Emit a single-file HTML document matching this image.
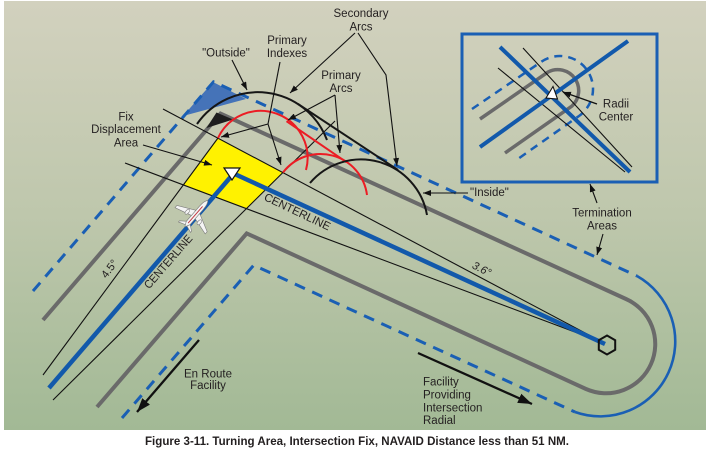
<!DOCTYPE html>
<html><head><meta charset="utf-8"><style>
html,body{margin:0;padding:0;background:#fff;}
svg{display:block;}
text{font-family:"Liberation Sans",Arial,sans-serif;fill:#231f20;}
</style></head><body>
<svg width="714" height="449" viewBox="0 0 714 449" xmlns="http://www.w3.org/2000/svg">
<defs>
<linearGradient id="bg" x1="0" y1="0" x2="0" y2="1">
<stop offset="0" stop-color="#d2d1be"/>
<stop offset="0.5" stop-color="#bec7ac"/>
<stop offset="1" stop-color="#a2b995"/>
</linearGradient>
<marker id="ah" markerUnits="userSpaceOnUse" markerWidth="8" markerHeight="6" refX="8" refY="3" orient="auto"><path d="M0,0 L8,3 L0,6 z" fill="#111"/></marker>
<marker id="ahb" markerUnits="userSpaceOnUse" markerWidth="14" markerHeight="10" refX="14" refY="5" orient="auto"><path d="M0,0 L14,5 L0,10 z" fill="#111"/></marker>
</defs>
<rect x="0" y="0" width="714" height="449" fill="#fff"/>
<rect x="4" y="1" width="702" height="429" fill="url(#bg)"/>

<!-- yellow fix displacement area -->
<polygon points="218,138 283,172.5 246.6,208.5 183.5,184.7" fill="#fff200"/>
<!-- blue shaded corner -->
<polygon points="213,82 183,116 246,99" fill="#4573b8"/>

<!-- gray primary boundaries -->
<path d="M43,320 L220.5,113.6 L626,299 A49,49 0 0 1 586,389 L246.7,233.4 L97,407" fill="none" stroke="#6a6a6a" stroke-width="4" stroke-linejoin="miter"/>
<!-- black wedge -->
<polygon points="216.5,112.5 233,119.5 206.5,128" fill="#1e1e1e"/>

<!-- blue dashed secondary boundaries -->
<path d="M33,291 L213.5,81.8 L637,276" fill="none" stroke="#1a5fb4" stroke-width="3" stroke-dasharray="11 8"/>
<path d="M122,418 L253.7,265.2 L575,412" fill="none" stroke="#1a5fb4" stroke-width="3" stroke-dasharray="11 8"/>
<path d="M637,276 A75,75 0 0 1 575,412" fill="none" stroke="#1a5fb4" stroke-width="2.6"/>

<!-- thin splay lines -->
<g stroke="#111" stroke-width="1.1" fill="none">
<line x1="163" y1="109" x2="604" y2="343"/>
<line x1="125" y1="163" x2="604" y2="343"/>
<line x1="43" y1="375" x2="218" y2="138"/>
<line x1="53" y1="400" x2="335" y2="121"/>
</g>

<!-- centerlines -->
<g stroke="#1259ab" stroke-width="4.5" fill="none">
<line x1="49" y1="388" x2="233.6" y2="173.5"/>
<line x1="233.6" y1="173.5" x2="605" y2="344"/>
</g>

<!-- red primary arcs -->
<g stroke="#ec1c24" stroke-width="2" fill="none">
<path d="M218,138 A47,47 0 0 1 306,170"/>
<path d="M283,172.5 A47,47 0 0 1 367,195"/>
<line x1="286.5" y1="121.2" x2="346.5" y2="162.2"/>
</g>

<!-- black secondary arcs -->
<g stroke="#161616" stroke-width="2" fill="none">
<path d="M197,124 A74,74 0 0 1 327,140"/>
<path d="M310,183 A67,67 0 0 1 427,215"/>
<line x1="298" y1="104" x2="398" y2="170"/>
</g>

<!-- annotation arrows -->
<g stroke="#111" stroke-width="1.1" fill="none">
<line x1="232" y1="60" x2="247" y2="90" marker-end="url(#ah)"/>
<polyline points="280,62 268,124"/>
<line x1="268" y1="124" x2="221" y2="137" marker-end="url(#ah)"/>
<line x1="268" y1="124" x2="281" y2="165" marker-end="url(#ah)"/>
<line x1="355" y1="33" x2="290" y2="93" marker-end="url(#ah)"/>
<polyline points="358,33 386,75 397,166" marker-end="url(#ah)"/>
<line x1="335" y1="95" x2="288" y2="120" marker-end="url(#ah)"/>
<line x1="335" y1="95" x2="340" y2="153" marker-end="url(#ah)"/>
<line x1="143" y1="145" x2="212" y2="165" marker-end="url(#ah)"/>
<line x1="468" y1="193" x2="423" y2="193" marker-end="url(#ah)"/>
<line x1="597" y1="203" x2="590" y2="184" marker-end="url(#ah)"/>
<line x1="603" y1="234" x2="597" y2="255" marker-end="url(#ah)"/>
</g>
<g stroke="#111" stroke-width="2.3" fill="none">
<line x1="199" y1="340" x2="137" y2="412" marker-end="url(#ahb)"/>
<line x1="418" y1="353" x2="532" y2="404" marker-end="url(#ahb)"/>
</g>

<!-- airplane -->
<g transform="translate(196,214) rotate(41)" fill="#f4f4f4" stroke="#7a7a7a" stroke-width="0.6">
<path d="M2,-3 L20,6 L20,9 L2,4 Z"/>
<path d="M-2,-3 L-20,6 L-20,9 L-2,4 Z"/>
<path d="M1.5,11 L8,16 L8,17.5 L1,15 Z"/>
<path d="M-1.5,11 L-8,16 L-8,17.5 L-1,15 Z"/>
<ellipse cx="8" cy="4" rx="1.6" ry="3"/>
<ellipse cx="-8" cy="4" rx="1.6" ry="3"/>
<path d="M0,-18 C2,-16 2.5,-12 2.5,-8 L2.5,12 L0,17 L-2.5,12 L-2.5,-8 C-2.5,-12 -2,-16 0,-18 Z"/>
<line x1="0" y1="-10" x2="0" y2="12" stroke="#c0303a" stroke-width="0.9"/>
</g>

<!-- fix triangle -->
<polygon points="224,168 240,168 232,180" fill="#fff" stroke="#111" stroke-width="1.2"/>
<!-- navaid hexagon -->
<polygon points="607,335.5 615.2,340.25 615.2,349.75 607,354.5 598.8,349.75 598.8,340.25" fill="none" stroke="#111" stroke-width="2"/>

<!-- labels -->
<g font-size="11.5">
<text x="361" y="17" text-anchor="middle">Secondary</text>
<text x="361" y="30.5" text-anchor="middle">Arcs</text>
<text x="287" y="44" text-anchor="middle">Primary</text>
<text x="287" y="57" text-anchor="middle">Indexes</text>
<text x="226" y="56.5" text-anchor="middle">"Outside"</text>
<text x="341" y="79" text-anchor="middle">Primary</text>
<text x="341" y="92" text-anchor="middle">Arcs</text>
<text x="126" y="120.5" text-anchor="middle">Fix</text>
<text x="126" y="133" text-anchor="middle">Displacement</text>
<text x="126" y="146.5" text-anchor="middle">Area</text>
<text x="470" y="196">"Inside"</text>
<text x="616" y="107.5" text-anchor="middle">Radii</text>
<text x="616" y="120.5" text-anchor="middle">Center</text>
<text x="602" y="216.5" text-anchor="middle">Termination</text>
<text x="602" y="229.5" text-anchor="middle">Areas</text>
<text x="208" y="377.5" text-anchor="middle">En Route</text>
<text x="208" y="389" text-anchor="middle">Facility</text>
<text x="423" y="385.5">Facility</text>
<text x="423" y="398.5">Providing</text>
<text x="423" y="411.5">Intersection</text>
<text x="423" y="424">Radial</text>
<text transform="translate(295.7,215.2) rotate(25.5)" text-anchor="middle" textLength="72" lengthAdjust="spacingAndGlyphs">CENTERLINE</text>
<text transform="translate(171.1,264.2) rotate(-49)" text-anchor="middle" textLength="67" lengthAdjust="spacingAndGlyphs">CENTERLINE</text>
<text transform="translate(112.3,271) rotate(-53)" text-anchor="middle" font-size="11">4.5°</text>
<text transform="translate(480.1,272.2) rotate(27)" text-anchor="middle" font-size="11" font-style="italic">3.6°</text>
</g>

<!-- inset -->
<rect x="462" y="34" width="195" height="148" fill="none" stroke="#1a5fb4" stroke-width="3"/>
<path d="M472,109 L541,62 A33,33 0 0 1 579,116 L515,161" fill="none" stroke="#1a5fb4" stroke-width="2.5" stroke-dasharray="8 6"/>
<path d="M480,119 L548,72 A21,21 0 0 1 572,106 L505,153" fill="none" stroke="#6a6a6a" stroke-width="3.5"/>
<g stroke="#111" stroke-width="1.1">
<line x1="523" y1="48" x2="632" y2="167"/>
<line x1="498" y1="68" x2="625" y2="172"/>
</g>
<g stroke="#1259ab" stroke-width="4">
<line x1="500" y1="47" x2="630" y2="172"/>
<line x1="628" y1="41" x2="480" y2="147"/>
</g>
<polygon points="546,98 553,86.5 557.5,99" fill="#fff" stroke="#111" stroke-width="1.1"/>
<line x1="597" y1="104" x2="563" y2="92" stroke="#111" stroke-width="1.3" marker-end="url(#ah)"/>

<!-- caption -->
<text x="357" y="445" text-anchor="middle" font-size="11.5" font-weight="bold" textLength="424" lengthAdjust="spacingAndGlyphs">Figure 3-11. Turning Area, Intersection Fix, NAVAID Distance less than 51 NM.</text>
</svg>
</body></html>
